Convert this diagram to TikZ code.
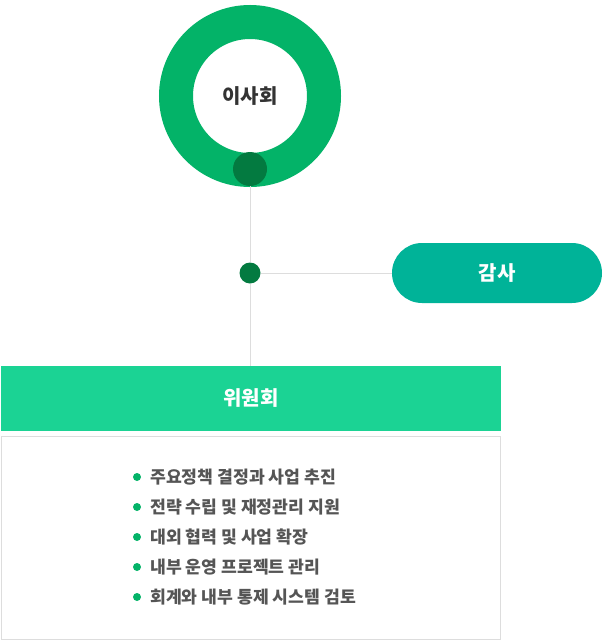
\documentclass[tikz,border=0pt]{standalone}
\usepackage{fontspec}
\setmainfont{Noto Sans CJK KR}
\usepackage{tikz}

\definecolor{ringgreen}{HTML}{03B368}
\definecolor{dotgreen}{HTML}{037A40}
\definecolor{auditteal}{HTML}{00B398}
\definecolor{boardmint}{HTML}{1BD394}
\definecolor{linegray}{HTML}{DDDDDD}
\definecolor{textgray}{HTML}{555555}

\tikzset{
  dot/.style={circle,fill=dotgreen,inner sep=0pt},
  wire/.style={draw=linegray,line width=1pt},
  itemtext/.style={anchor=west,inner sep=0pt,text=textgray,font=\fontsize{17.2}{20}\selectfont\bfseries},
}

\begin{document}
\begin{tikzpicture}[x=1pt,y=-1pt]
   \useasboundingbox (0,0) rectangle (603,642);
   \node[circle,draw=ringgreen,line width=34pt,minimum size=148pt,inner sep=0pt,
         font=\fontsize{20}{24}\selectfont\bfseries,text=black!80] (board) at (250,96) {이사회};
   \node[dot,minimum size=34pt] (ringdot) at (250,169) {};
   \node[dot,minimum size=21pt] (jdot) at (250,273) {};
   \node[rectangle,rounded corners=30pt,fill=auditteal,minimum width=210pt,minimum height=60pt,
         text=white,font=\fontsize{20}{24}\selectfont\bfseries] (audit) at (497,273) {감사};
   \node[rectangle,fill=boardmint,minimum width=500pt,minimum height=65pt,
         text=white,font=\fontsize{20}{24}\selectfont\bfseries] (committee) at (251,398.5) {위원회};
   \node[rectangle,draw=linegray,line width=1pt,minimum width=499pt,minimum height=203pt] (tasks) at (251,538) {};

   \draw[wire] (ringdot) -- (jdot);
   \draw[wire] (jdot) -- (committee.north -| jdot);
   \draw[wire] (jdot) -- (audit);

   \foreach \i/\txt in {0/주요정책 결정과 사업 추진,1/전략 수립 및 재정관리 지원,2/대외 협력 및 사업 확장,
                        3/내부 운영 프로젝트 관리,4/회계와 내부 통제 시스템 검토}{
      \node[circle,fill=ringgreen,inner sep=0pt,minimum size=8pt] (bul\i) at (137,477+30*\i) {};
      \node[itemtext] (item\i) at (150,477+30*\i) {\txt};
   }
\end{tikzpicture}
\end{document}
